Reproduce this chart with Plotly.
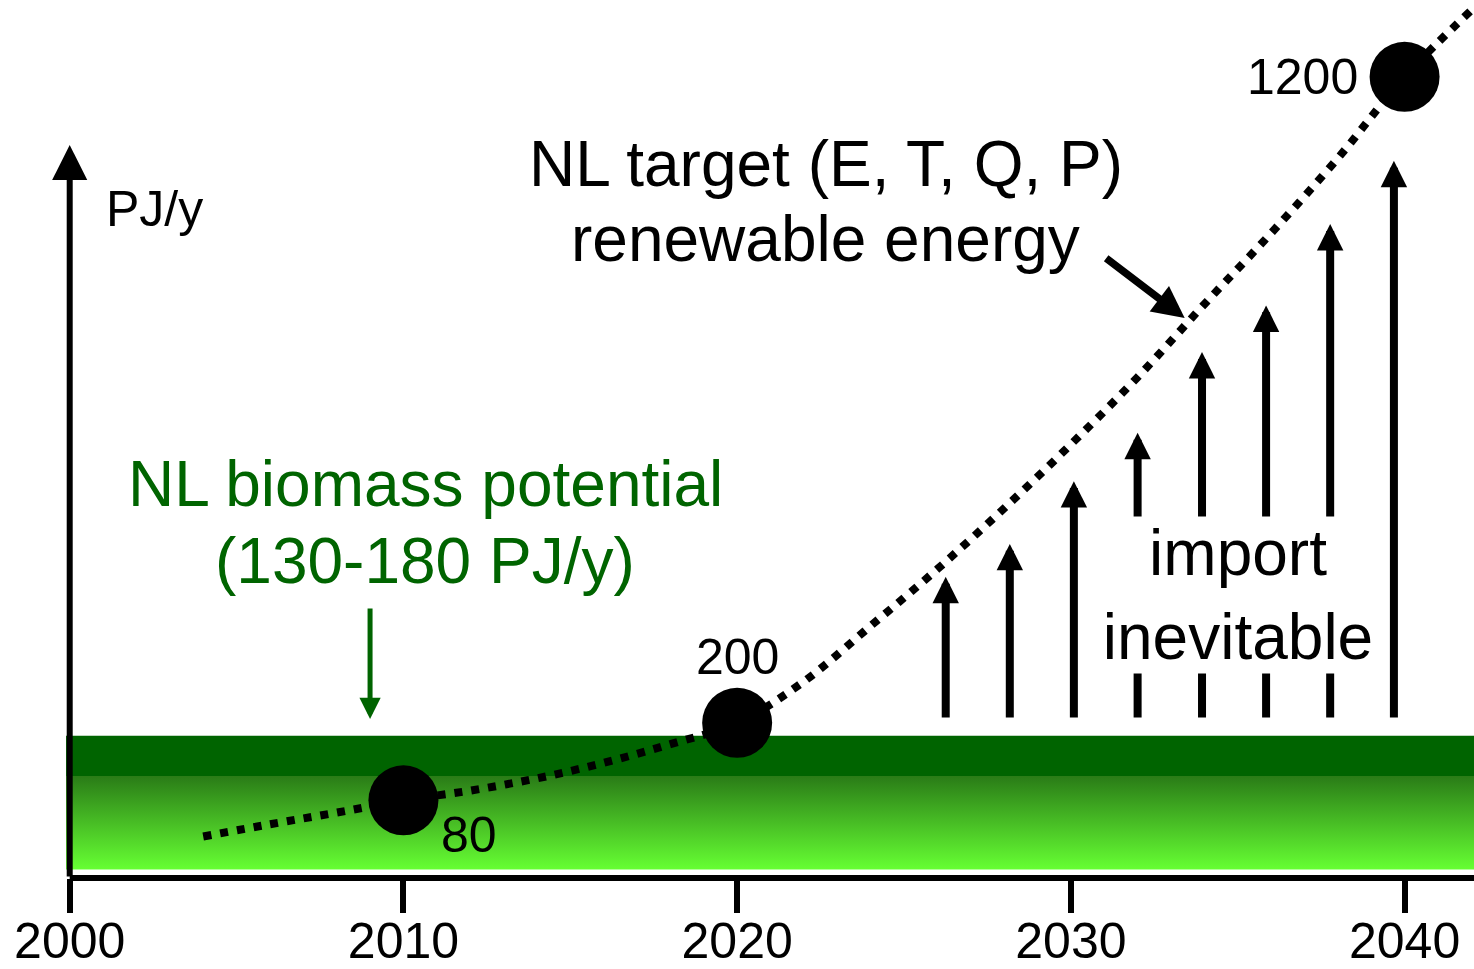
import plotly.graph_objects as go

# Renewable-energy target trajectory (PJ/y)
target_years = [2004, 2006, 2008, 2010, 2012, 2014, 2016, 2018, 2020, 2022,
                2024, 2026, 2028, 2030, 2032, 2034, 2036, 2038, 2040, 2042]
target_pj = [24, 43, 61, 80, 95, 114, 138, 167, 200, 264,
             350, 438, 532, 631, 735, 848, 958, 1074, 1200, 1303]

# Milestones on the target curve
milestone_years = [2010, 2020, 2040]
milestone_pj = [80, 200, 1200]

# Required imports (arrow tips) and the common arrow base
import_years = [2026.25, 2028.17, 2030.09, 2032.0, 2033.93, 2035.85, 2037.77, 2039.68]
import_top_pj = [426, 477, 574, 649, 774, 846, 972, 1070]
import_base_pj = 206

# Domestic biomass band
band_top_pj = 180
band_dark_pj = 117
band_floor_pj = -27

tick_years = [2000, 2010, 2020, 2030, 2040]

FONT = "Liberation Sans, Arial, Helvetica, sans-serif"
DARK_GREEN = "#006400"
X_RANGE = [1997.911, 2042.08]
Y_RANGE = [-40.22, 1318.92]

fig = go.Figure()

# Green biomass band with vertical gradient
frac = (band_dark_pj - band_floor_pj) / (band_top_pj - band_floor_pj)
bx0, bx1 = 1999.89, 2042.3
fig.add_trace(go.Scatter(
    x=[bx0, bx1, bx1, bx0, bx0],
    y=[band_floor_pj, band_floor_pj, band_top_pj, band_top_pj, band_floor_pj],
    mode="none", fill="toself",
    fillgradient=dict(
        type="vertical", start=band_floor_pj, stop=band_top_pj,
        colorscale=[[0, "#66ff33"], [frac, "#2a7c17"], [frac, DARK_GREEN], [1, DARK_GREEN]],
    ),
    hoverinfo="skip",
))

# Dotted target curve
fig.add_trace(go.Scatter(
    x=target_years, y=target_pj, mode="lines",
    line=dict(color="black", width=8, dash="8px,9px", shape="spline", smoothing=1.0),
    hoverinfo="skip",
))

# Milestone dots
fig.add_trace(go.Scatter(
    x=milestone_years, y=milestone_pj, mode="markers",
    marker=dict(size=70, color="black", line=dict(width=0)),
    cliponaxis=False, hoverinfo="skip",
))

annotations = []

# Vertical axis with arrow head
annotations.append(dict(
    x=2000, y=1094.5, ax=2000, ay=Y_RANGE[0], xref="x", yref="y", axref="x", ayref="y",
    text="", showarrow=True, arrowhead=2, arrowsize=1.17, arrowwidth=6, arrowcolor="black",
    standoff=0,
))

# Import arrows
for yr, top in zip(import_years, import_top_pj):
    annotations.append(dict(
        x=yr, y=top, ax=yr, ay=import_base_pj, xref="x", yref="y", axref="x", ayref="y",
        text="", showarrow=True, arrowhead=2, arrowsize=0.66, arrowwidth=8,
        arrowcolor="black", standoff=0,
    ))

# Pointer to the target curve
annotations.append(dict(
    x=2033.41, y=826.6, ax=-80, ay=-61, xref="x", yref="y",
    text="", showarrow=True, arrowhead=2, arrowsize=0.85, arrowwidth=7.5,
    arrowcolor="black", standoff=0,
))

# Pointer down to the biomass band
annotations.append(dict(
    x=2009.0, y=205.9, ax=0, ay=-112, xref="x", yref="y",
    text="", showarrow=True, arrowhead=2, arrowsize=0.85, arrowwidth=5,
    arrowcolor=DARK_GREEN, standoff=0,
))

big = dict(family=FONT, size=64, color="black")
small = dict(family=FONT, size=50, color="black")
green = dict(family=FONT, size=64, color=DARK_GREEN)

annotations += [
    dict(x=2022.66, y=1065.0, text="NL target (E, T, Q, P)", font=big),
    dict(x=2022.65, y=948.9, text="renewable energy", font=big),
    dict(x=2010.66, y=569.7, text="NL biomass potential", font=green),
    dict(x=2010.66, y=450.5, text="(130-180 PJ/y)", font=green),
    dict(x=2002.54, y=995.8, text="PJ/y", font=small),
    dict(x=2035.02, y=397.9, text="import<br>inevitable", font=big,
         width=278, height=156, bgcolor="white", borderpad=0),
]

# Milestone value labels
label_offsets = [(66, -34.5, "center"), (0, 65.5, "center"), (-45, 0, "right")]
for yr, val, (dx, dy, anchor) in zip(milestone_years, milestone_pj, label_offsets):
    annotations.append(dict(
        x=yr, y=val, text=str(val), font=small, xanchor=anchor,
        xshift=dx, yshift=dy,
    ))

for a in annotations:
    a.setdefault("xref", "x")
    a.setdefault("yref", "y")
    a.setdefault("showarrow", False)
    if not a["showarrow"]:
        a.setdefault("xanchor", "center")
        a.setdefault("yanchor", "middle")

fig.update_layout(
    width=1474, height=969,
    margin=dict(l=0, r=0, t=0, b=91, pad=0, autoexpand=False),
    paper_bgcolor="white", plot_bgcolor="white",
    showlegend=False,
    font=dict(family=FONT, color="black"),
    xaxis=dict(
        range=X_RANGE, tickvals=tick_years, ticktext=[str(t) for t in tick_years],
        ticks="outside", ticklen=34, tickwidth=6, tickcolor="black",
        ticklabelstandoff=-15,
        tickfont=dict(family=FONT, size=50, color="black"),
        showgrid=False, zeroline=False, showline=False, fixedrange=True,
        automargin=False,
    ),
    yaxis=dict(range=Y_RANGE, visible=False, fixedrange=True, automargin=False),
    annotations=annotations,
    shapes=[dict(
        type="line", xref="x", yref="paper", x0=2000, x1=2042.3, y0=0, y1=0,
        line=dict(color="black", width=6),
    )],
)

fig.write_html("out.html")
